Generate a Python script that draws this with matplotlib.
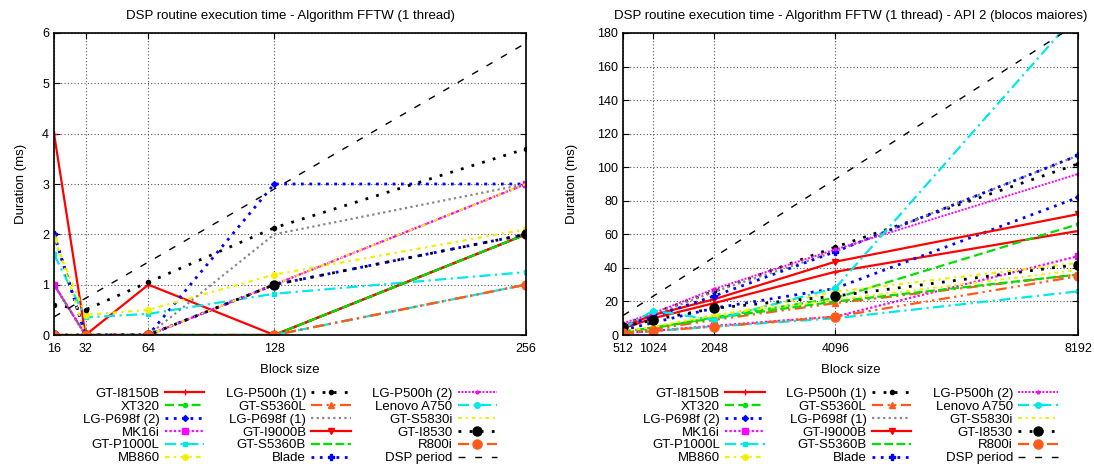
import matplotlib
matplotlib.use('Agg')
import matplotlib.pyplot as plt

plt.rcParams['font.family'] = ['Liberation Sans', 'DejaVu Sans']
plt.rcParams['font.size'] = 9.5

# Block sizes
x_left = [16, 32, 64, 128, 256]
x_right = [512, 1024, 2048, 4096, 8192]

names = ['GT-I8150B', 'XT320', 'LG-P698f (2)', 'MK16i', 'GT-P1000L', 'MB860',
         'LG-P500h (1)', 'GT-S5360L', 'LG-P698f (1)', 'GT-I9000B', 'GT-S5360B', 'Blade',
         'LG-P500h (2)', 'Lenovo A750', 'GT-S5830i', 'GT-I8530', 'R800i', 'DSP period']

# Duration (ms), left chart (small blocks)
left_vals = {
    'GT-I8150B':    [4, 0, 1, 0, 2],
    'XT320':        [1, 0, 0, 0, 2],
    'LG-P698f (2)': [2, 0, 0, 3, 3],
    'MK16i':        [1, 0, 0, 1, 3],
    'GT-P1000L':    [1.6, 0.35, 0.42, 0.82, 1.25],
    'MB860':        [1.9, 0.4, 0.5, 1.2, 2.1],
    'LG-P500h (1)': [0.6, 0.5, 1.05, 2.13, 3.7],
    'GT-S5360L':    [0, 0, 0, 0, 1],
    'LG-P698f (1)': [1, 0, 0, 2, 3],
    'GT-I9000B':    [0, 0, 0, 0, 2],
    'GT-S5360B':    [0, 0, 0, 0, 2],
    'Blade':        [2, 0, 0, 1, 2],
    'LG-P500h (2)': [1, 0, 0, 1, 3],
    'Lenovo A750':  [0, 0, 0, 0, 1],
    'GT-S5830i':    [2, 0, 0, 1, 3],
    'GT-I8530':     [0, 0, 0, 1, 2],
    'R800i':        [0, 0, 0, 0, 1],
    'DSP period':   [0.36, 0.73, 1.45, 2.90, 5.80],
}

# Duration (ms), right chart (API 2, larger blocks)
right_vals = {
    'GT-I8150B':    [4, 10, 19, 37.7, 62],
    'XT320':        [2, 4, 10.5, 22, 66],
    'LG-P698f (2)': [3, 7.4, 16, 27.8, 82],
    'MK16i':        [1, 2.5, 5.5, 11, 47],
    'GT-P1000L':    [1, 2.3, 5, 10, 26],
    'MB860':        [2, 4.5, 11, 25.8, 43],
    'LG-P500h (1)': [6, 13, 26, 52.4, 102],
    'GT-S5360L':    [1.5, 3.5, 9, 19, 36],
    'LG-P698f (1)': [6, 12, 25.8, 49.7, 107],
    'GT-I9000B':    [5, 12, 21.3, 43.7, 72],
    'GT-S5360B':    [2, 4.5, 10, 20, 36],
    'Blade':        [5, 11, 23.2, 49.7, 107],
    'LG-P500h (2)': [7, 13, 27.4, 51, 96],
    'Lenovo A750':  [4, 14.5, 9, 28, 192],
    'GT-S5830i':    [2, 5, 12, 21, 38.7],
    'GT-I8530':     [5, 9, 15.9, 23.2, 42],
    'R800i':        [1, 2.4, 5, 10.9, 35],
    'DSP period':   [11.6, 23.2, 46.4, 92.9, 185.8],
}

orange = '#ff5a1a'
# (color, linestyle, linewidth, marker, markersize)
styles = {
    'GT-I8150B':    ('#ff0000', '-', 1.6, '+', 4),
    'XT320':        ('#00e000', (0, (4, 2)), 1.6, 'o', 3),
    'LG-P698f (2)': ('#0000ff', (0, (1, 2)), 2.0, 'D', 3),
    'MK16i':        ('#ff00ff', (0, (1, 1)), 1.6, 's', 5),
    'GT-P1000L':    ('#00e8e8', (0, (5, 2, 1, 2)), 1.6, 's', 3),
    'MB860':        ('#f0f000', (0, (2, 2, 1, 2)), 1.6, 'o', 4),
    'LG-P500h (1)': ('#000000', (0, (1, 3)), 2.0, 'o', 3),
    'GT-S5360L':    (orange, (0, (5, 2, 1, 2, 1, 2)), 1.6, '^', 5),
    'LG-P698f (1)': ('#888888', (0, (1, 1.5)), 1.6, None, 3),
    'GT-I9000B':    ('#ff0000', '-', 1.6, 'v', 5),
    'GT-S5360B':    ('#00e000', (0, (4, 1.5)), 1.6, None, 3),
    'Blade':        ('#0000ff', (0, (1, 2)), 2.0, 'P', 4),
    'LG-P500h (2)': ('#ff00ff', (0, (1, 0.8)), 1.4, 'o', 2),
    'Lenovo A750':  ('#00e8e8', (0, (5, 2, 1, 2)), 1.6, 'o', 4),
    'GT-S5830i':    ('#f0f000', (0, (2, 2, 1, 2)), 1.4, None, 3),
    'GT-I8530':     ('#000000', (0, (1, 3)), 2.0, 'o', 6.5),
    'R800i':        (orange, (0, (5, 2, 1, 2, 1, 2)), 1.6, 'o', 6.5),
    'DSP period':   ('#000000', (0, (5, 7)), 1.0, None, 0),
}

fig = plt.figure(figsize=(10.94, 4.70), dpi=100)
ax1 = fig.add_axes([0.0494, 0.2872, 0.4314, 0.6426])
ax2 = fig.add_axes([0.5695, 0.2872, 0.4159, 0.6426])


def draw(ax, xs, vals, ylim, yticks, title, ylabelpad):
    for n in names:
        c, ls, lw, mk, ms = styles[n]
        ax.plot(xs, vals[n], color=c, linestyle=ls, linewidth=lw, marker=mk,
                markersize=ms, markeredgewidth=1, label=n, clip_on=True)
    ax.set_xlim(xs[0], xs[-1])
    ax.set_ylim(*ylim)
    ax.set_xticks(xs)
    ax.set_yticks(yticks)
    ax.grid(True, linestyle=(0, (1, 2)), color='#555555', linewidth=0.8)
    ax.tick_params(direction='in', top=True, right=True, length=4, labelsize=9)
    ax.tick_params(axis='x', pad=6)
    for s in ax.spines.values():
        s.set_linewidth(1.2)
    ax.set_xlabel('Block size', labelpad=6)
    ax.set_ylabel('Duration (ms)', labelpad=ylabelpad)
    ax.set_title(title, fontsize=9.5, pad=10)
    ax.legend(loc='upper center', bbox_to_anchor=(0.5, -0.135), ncol=3,
              frameon=False, markerfirst=False, handlelength=3.0,
              handletextpad=0.4, columnspacing=1.6, labelspacing=0.05,
              fontsize=9.5)


draw(ax1, x_left, left_vals, (0, 6), range(0, 7),
     'DSP routine execution time - Algorithm FFTW (1 thread)', 11)
draw(ax2, x_right, right_vals, (0, 180), range(0, 181, 20),
     'DSP routine execution time - Algorithm FFTW (1 thread) - API 2 (blocos maiores)', 14)

fig.savefig('out.png', dpi=100)
